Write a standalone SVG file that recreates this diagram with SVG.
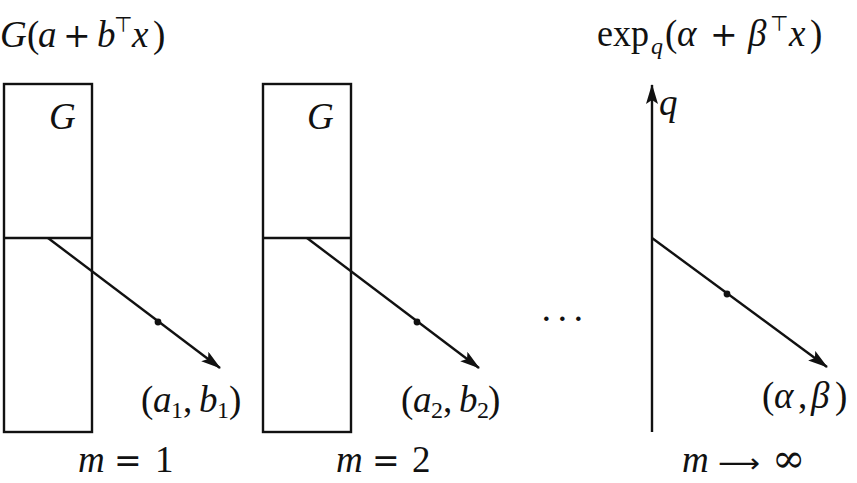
<svg xmlns="http://www.w3.org/2000/svg" width="857" height="483" viewBox="0 0 857 483">
<style>
text{font-family:"Liberation Serif","DejaVu Serif",serif;font-size:37px;fill:#111}
.i{font-style:italic}
.op{font-family:"DejaVu Serif","Liberation Serif",serif;font-size:33px}
.sub{font-size:24px}
.sup{font-size:21px;font-family:"DejaVu Sans","Liberation Sans",sans-serif}
.ln{stroke:#111;stroke-width:2.4;fill:none}
</style>
<defs>
<marker id="ah" viewBox="0 0 20 12" refX="19" refY="6" markerWidth="20" markerHeight="12" markerUnits="userSpaceOnUse" orient="auto">
<path d="M0,0 L20,6 L0,12 L4,6 Z" fill="#111"/>
</marker>
</defs>
<rect width="857" height="483" fill="#fff"/>
<g id="title1">
<text y="47"><tspan x="0" class="i">G</tspan><tspan x="27">(</tspan><tspan x="38" class="i">a</tspan><tspan x="63" class="op">+</tspan><tspan x="97" class="i">b</tspan><tspan x="114" y="32" class="sup">⊤</tspan><tspan x="132" y="47" class="i">x</tspan><tspan x="153">)</tspan></text>
</g>
<g id="title2">
<text y="46"><tspan x="597" textLength="52" lengthAdjust="spacingAndGlyphs">exp</tspan><tspan x="651" y="54" class="sub i">q</tspan><tspan x="665" y="46">(</tspan><tspan x="677" class="i">α</tspan><tspan x="710" class="op">+</tspan><tspan x="748" class="i">β</tspan><tspan x="770" y="31" class="sup">⊤</tspan><tspan x="789" y="46" class="i">x</tspan><tspan x="810">)</tspan></text>
</g>
<g id="panel1">
<rect class="ln" x="4" y="84" width="88" height="348"/>
<line class="ln" x1="4" y1="238" x2="92" y2="238"/>
<text x="49" y="129" class="i">G</text>
<text y="412"><tspan x="141">(</tspan><tspan x="153" class="i">a</tspan><tspan x="171" y="418" class="sub">1</tspan><tspan x="183" y="412">,</tspan><tspan x="199" class="i">b</tspan><tspan x="217" y="418" class="sub">1</tspan><tspan x="229" y="412">)</tspan></text>
<text y="472"><tspan x="78" class="i">m</tspan><tspan x="114" class="op">=</tspan><tspan x="155">1</tspan></text>
</g>
<g id="panel2">
<rect class="ln" x="263" y="84" width="88" height="348"/>
<line class="ln" x1="263" y1="238" x2="351" y2="238"/>
<text x="307" y="129" class="i">G</text>
<text y="412"><tspan x="401">(</tspan><tspan x="413" class="i">a</tspan><tspan x="431" y="418" class="sub">2</tspan><tspan x="443" y="412">,</tspan><tspan x="459" class="i">b</tspan><tspan x="477" y="418" class="sub">2</tspan><tspan x="488" y="412">)</tspan></text>
<text y="472"><tspan x="336" class="i">m</tspan><tspan x="372" class="op">=</tspan><tspan x="412">2</tspan></text>
</g>
<g id="ellipsis">
<text y="331" style="font-size:38px"><tspan x="540">·</tspan><tspan x="556">·</tspan><tspan x="572">·</tspan></text>
</g>
<g id="panel3">
<text x="659" y="115" class="i">q</text>
<text y="408"><tspan x="762">(</tspan><tspan x="774" class="i">α</tspan><tspan x="798">,</tspan><tspan x="811" class="i">β</tspan><tspan x="835">)</tspan></text>
<text y="472"><tspan x="682" class="i">m</tspan><tspan x="718" style="font-family:'DejaVu Sans',sans-serif;font-size:26px" textLength="42" lengthAdjust="spacingAndGlyphs">⟶</tspan><tspan x="772" class="op" style="font-size:40px">∞</tspan></text>
</g>
<g id="connectors">
<line class="ln" x1="652" y1="432" x2="652" y2="85" marker-end="url(#ah)"/>
<line class="ln" x1="48" y1="238" x2="220" y2="368" marker-end="url(#ah)"/>
<line class="ln" x1="307" y1="238" x2="479" y2="368" marker-end="url(#ah)"/>
<line class="ln" x1="652" y1="238" x2="827" y2="367" marker-end="url(#ah)"/>
<circle cx="158" cy="322" r="3.4" fill="#111"/>
<circle cx="417" cy="322" r="3.4" fill="#111"/>
<circle cx="727" cy="294" r="3.4" fill="#111"/>
</g>
</svg>
